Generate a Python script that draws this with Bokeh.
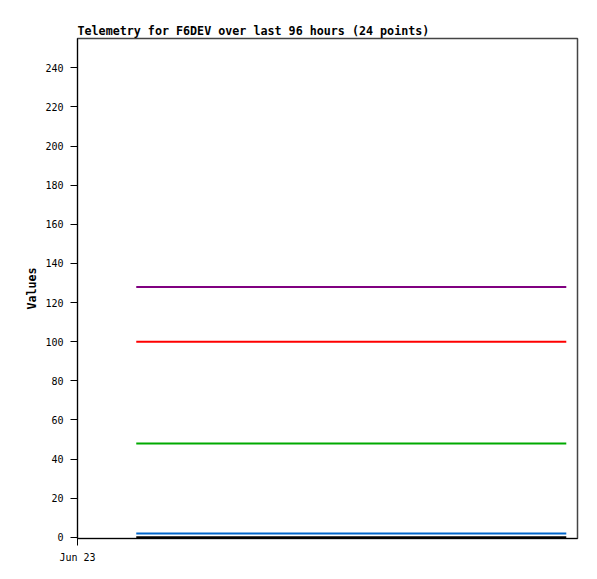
from datetime import datetime
from bokeh.plotting import figure
from bokeh.models import Range1d, FixedTicker, DatetimeTickFormatter
from bokeh.embed import file_html
from bokeh.resources import INLINE

title_text = "Telemetry for F6DEV over last 96 hours (24 points)"
y_label = "Values"

times = [
    "2024-06-23 12:00", "2024-06-23 15:30", "2024-06-23 19:00", "2024-06-23 22:30",
    "2024-06-24 02:00", "2024-06-24 05:30", "2024-06-24 09:00", "2024-06-24 12:30",
    "2024-06-24 16:00", "2024-06-24 19:30", "2024-06-24 23:00", "2024-06-25 02:30",
    "2024-06-25 06:00", "2024-06-25 09:30", "2024-06-25 13:00", "2024-06-25 16:30",
    "2024-06-25 20:00", "2024-06-25 23:30", "2024-06-26 03:00", "2024-06-26 06:30",
    "2024-06-26 10:00", "2024-06-26 13:30", "2024-06-26 17:00", "2024-06-26 20:30",
]
series_purple = [128] * 24
series_red = [100] * 24
series_green = [48] * 24
series_blue = [2] * 24
series_black = [0] * 24

series = [
    (series_purple, "#800080"),
    (series_red, "#ff0000"),
    (series_green, "#00aa00"),
    (series_blue, "#0066cc"),
    (series_black, "#000000"),
]

x = [datetime.strptime(t, "%Y-%m-%d %H:%M") for t in times]
x_start = datetime(2024, 6, 23, 1, 0)
x_end = datetime(2024, 6, 26, 22, 36)

p = figure(width=589, height=571, output_backend="svg", toolbar_location=None,
           x_axis_type="datetime",
           x_range=Range1d(x_start, x_end), y_range=Range1d(-0.6, 255),
           min_border_left=77, min_border_right=12, min_border_top=38,
           min_border_bottom=33)

p.title.text = title_text
p.title.text_font = "DejaVu Sans Mono"
p.title.text_font_size = "11.7px"
p.title.text_font_style = "bold"
p.title.text_color = "black"
p.title.offset = 0
p.title.standoff = 2

for vals, col in series:
    p.line(x, vals, line_color=col, line_width=2)

p.grid.visible = False
p.outline_line_color = "#444444"
p.outline_line_width = 1.5

p.yaxis.ticker = FixedTicker(ticks=list(range(0, 241, 20)))
p.yaxis.axis_label = y_label
p.yaxis.axis_label_text_font = "DejaVu Sans Mono"
p.yaxis.axis_label_text_font_style = "bold"
p.yaxis.axis_label_text_font_size = "11.7px"
p.yaxis.axis_label_text_color = "black"
p.yaxis.axis_label_standoff = 3
p.yaxis.major_label_text_font = "DejaVu Sans Mono"
p.yaxis.major_label_text_font_size = "10px"
p.yaxis.major_label_text_color = "black"
p.yaxis.major_label_standoff = 7
p.yaxis.minor_tick_line_color = None
p.yaxis.major_tick_out = 7
p.yaxis.major_tick_in = 0
p.yaxis.major_tick_line_color = "black"
p.yaxis.axis_line_color = "black"

p.xaxis.ticker = FixedTicker(ticks=[x_start.timestamp() * 1000])
fmt = "%b %d"
p.xaxis.formatter = DatetimeTickFormatter(
    milliseconds=fmt, seconds=fmt, minsec=fmt, minutes=fmt, hourmin=fmt,
    hours=fmt, days=fmt, months=fmt, years=fmt, context=None)
p.xaxis.major_label_text_font = "DejaVu Sans Mono"
p.xaxis.major_label_text_font_size = "10px"
p.xaxis.major_label_text_color = "black"
p.xaxis.major_label_standoff = 6
p.xaxis.minor_tick_line_color = None
p.xaxis.major_tick_out = 7
p.xaxis.major_tick_in = 0
p.xaxis.major_tick_line_color = "black"
p.xaxis.axis_line_color = "black"

open("out.html", "w").write(file_html(p, INLINE))
